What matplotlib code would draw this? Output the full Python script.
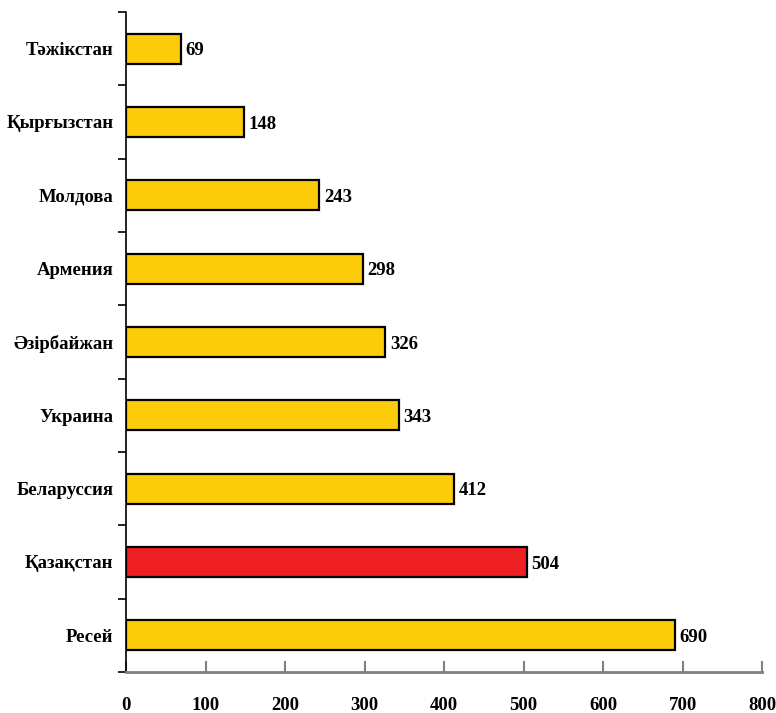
import numpy as np
import matplotlib.pyplot as plt

countries = ['Ресей', 'Қазақстан', 'Беларуссия', 'Украина', 'Әзірбайжан',
             'Армения', 'Молдова', 'Қырғызстан', 'Тәжікстан']
values = [690, 504, 412, 343, 326, 298, 243, 148, 69]
highlight = 'Қазақстан'
x_ticks = [0, 100, 200, 300, 400, 500, 600, 700, 800]

plt.rcParams['font.family'] = ['Liberation Serif', 'DejaVu Serif']
plt.rcParams['font.weight'] = 'bold'

fig = plt.figure(figsize=(7.76, 7.13), dpi=100)
ax = fig.add_axes([126 / 776, 1 - 672 / 713, (762 - 126) / 776, (672 - 12) / 713])

y = np.arange(len(countries))
colors = ['#EE2024' if c == highlight else '#FCCB0A' for c in countries]
ax.barh(y, values, height=0.41, color=colors, edgecolor='black', linewidth=1.6, zorder=3)

for yi, v in zip(y, values):
    ax.text(v + 6, yi - 0.03, str(v), va='center', ha='left', fontsize=13.5, fontweight='bold')

ax.set_xlim(0, 800)
ax.set_ylim(-0.5, len(countries) - 0.5)
ax.set_xticks(x_ticks)
ax.set_xticklabels([str(t) for t in x_ticks], fontsize=13.5, fontweight='bold')
ax.set_yticks(y)
ax.set_yticklabels(countries, fontsize=13.5, fontweight='bold')
ax.set_yticks(np.arange(-0.5, len(countries), 1), minor=True)

ax.tick_params(axis='y', which='major', length=0, pad=9)
ax.tick_params(axis='y', which='minor', length=6, width=1.2, color='black', direction='out')
ax.tick_params(axis='x', which='major', length=8, width=1.5, color='#808080', direction='in', pad=18)

for s in ['top', 'right']:
    ax.spines[s].set_visible(False)
ax.spines['left'].set_linewidth(1.2)
ax.spines['bottom'].set_color('#808080')
ax.spines['bottom'].set_linewidth(2)

fig.savefig('out.png', dpi=100)
